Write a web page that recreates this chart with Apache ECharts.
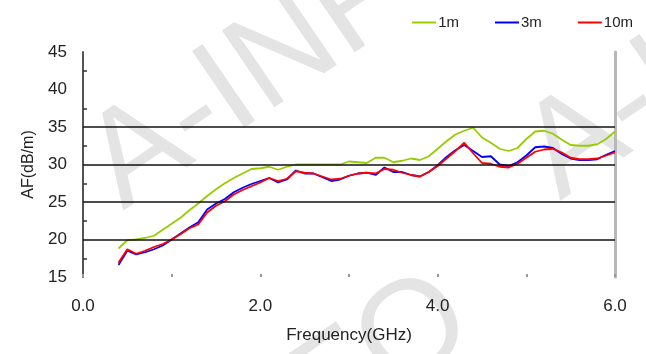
<!DOCTYPE html>
<html>
<head>
<meta charset="utf-8">
<script src="https://cdn.jsdelivr.net/npm/echarts@6/dist/echarts.min.js"></script>
<style>html,body{margin:0;padding:0;background:#fff;}#c{width:646px;height:354px;}</style>
</head>
<body>
<div id="c"></div>
<script>
var freq = [0.4,0.5,0.6,0.7,0.8,0.9,1.0,1.1,1.2,1.3,1.4,1.5,1.6,1.7,1.8,1.9,2.0,2.1,2.2,2.3,2.4,2.5,2.6,2.7,2.8,2.9,3.0,3.1,3.2,3.3,3.4,3.5,3.6,3.7,3.8,3.9,4.0,4.1,4.2,4.3,4.4,4.5,4.6,4.7,4.8,4.9,5.0,5.1,5.2,5.3,5.4,5.5,5.6,5.7,5.8,5.9,6.0];
var af1m = [18.8,19.9,20.0,20.2,20.5,21.3,22.1,22.9,23.9,24.8,25.8,26.7,27.5,28.2,28.8,29.4,29.5,29.7,29.3,29.7,30.0,30.0,30.0,30.0,30.0,30.0,30.4,30.3,30.2,30.9,30.9,30.3,30.5,30.8,30.6,31.1,32.1,33.1,34.0,34.5,34.9,33.6,32.9,32.1,31.8,32.2,33.4,34.4,34.5,34.1,33.3,32.6,32.5,32.5,32.7,33.4,34.4];
var af3m = [16.6,18.5,18.0,18.3,18.7,19.2,20.0,20.8,21.6,22.3,24.0,24.8,25.4,26.3,26.9,27.4,27.8,28.2,27.6,28.0,29.2,28.8,28.8,28.3,27.8,28.0,28.5,28.8,28.9,28.6,29.6,29.0,29.0,28.6,28.4,29.0,29.9,31.0,31.9,32.6,31.8,31.0,31.1,30.0,29.8,30.3,31.2,32.3,32.4,32.2,31.4,30.8,30.6,30.6,30.7,31.3,31.8];
var af10m = [16.9,18.7,18.1,18.5,19.0,19.4,20.0,20.7,21.5,22.0,23.6,24.5,25.1,26.0,26.6,27.1,27.6,28.2,27.8,28.1,29.1,28.9,28.8,28.4,28.0,28.1,28.5,28.8,28.9,28.8,29.4,29.3,28.9,28.6,28.4,29.0,29.8,30.8,31.8,32.9,31.5,30.2,30.1,29.7,29.6,30.1,30.9,31.7,32.0,32.1,31.6,30.9,30.7,30.7,30.8,31.2,31.6];
var seriesNames = ['1m','3m','10m'];
var gridValues = [20,25,30,35];
var watermark = 'A-INFO';

function pairs(v){ return freq.map(function(f,i){ return [f, v[i]]; }); }
var font = 'Liberation Sans, Arial, sans-serif';
var wmFont = '135px Liberation Sans, Arial, sans-serif';
function wm(x, y){
  return {type:'text', silent:true, z:-10, x:x, y:y, rotation:0.6,
    style:{text:watermark, fill:'#e4e4e4', font:wmFont, textAlign:'left', textVerticalAlign:'bottom'}};
}
var chart = echarts.init(document.getElementById('c'), null, {renderer:'canvas'});
chart.setOption({
  animation:false,
  backgroundColor:'#fff',
  color:['#99cc00','#0000ff','#ff0000'],
  graphic:[wm(140,236), wm(577,226), wm(119,619)],
  legend:{
    right:8, top:10, itemWidth:24, itemHeight:2, itemGap:36, icon:'rect',
    textStyle:{fontFamily:font, fontSize:15, color:'#222', padding:[0,0,0,-3]},
    data:seriesNames
  },
  grid:{left:83, right:31, top:52, bottom:77, containLabel:false},
  xAxis:{
    type:'value', min:0, max:6, interval:1,
    name:'Frequency(GHz)', nameLocation:'middle', nameGap:50,
    nameTextStyle:{fontFamily:font, fontSize:17, color:'#222'},
    axisLine:{show:false},
    axisTick:{show:true, inside:true, length:3, lineStyle:{color:'#999', width:2}},
    axisLabel:{fontFamily:font, fontSize:17, color:'#222', margin:21,
      formatter:function(v){ return (Math.round(v)%2===0) ? v.toFixed(1) : ''; }},
    splitLine:{show:false}
  },
  yAxis:[{
    type:'value', min:15, max:45, interval:5,
    name:'AF(dB/m)', nameLocation:'middle', nameGap:46,
    nameTextStyle:{fontFamily:font, fontSize:16, color:'#222'},
    axisLine:{show:true, lineStyle:{color:'#555', width:2}},
    axisTick:{show:false},
    minorTick:{show:true, splitNumber:2, length:-4, lineStyle:{color:'#333', width:1.5}},
    axisLabel:{fontFamily:font, fontSize:17, color:'#222', margin:16},
    splitLine:{show:false}
  },{
    type:'value', min:15, max:45, interval:5, position:'right',
    axisLine:{show:true, lineStyle:{color:'#b8b8b8', width:3}},
    axisTick:{show:false}, axisLabel:{show:false}, splitLine:{show:false}
  }],
  series:[
    {name:'1m', type:'line', data:pairs(af1m), symbol:'none', lineStyle:{width:1.8},
     markLine:{silent:true, symbol:'none', label:{show:false},
       lineStyle:{color:'#111', width:1.6, type:'solid'},
       data:gridValues.map(function(g){ return {yAxis:g}; })}},
    {name:'3m', type:'line', data:pairs(af3m), symbol:'none', lineStyle:{width:1.8}},
    {name:'10m', type:'line', data:pairs(af10m), symbol:'none', lineStyle:{width:1.8}}
  ]
});
</script>
</body>
</html>
